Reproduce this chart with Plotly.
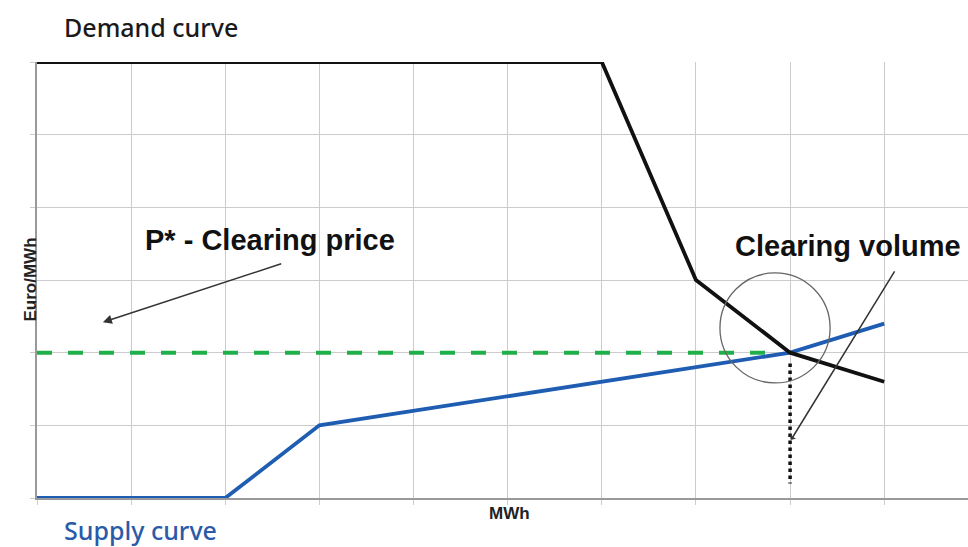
import plotly.graph_objects as go

# Data (grid units)
demand_x = [0, 6, 7, 8, 9]
demand_y = [6, 6, 3, 2, 1.6]
supply_x = [0, 2, 3, 8, 9]
supply_y = [0, 0, 1, 2, 2.4]
clearing_price = 2
clearing_volume = 8
price_line_x = [0, 7.8]
volume_line_y = [1.85, 0.2]

fig = go.Figure()

fig.add_trace(go.Scatter(x=price_line_x, y=[clearing_price, clearing_price], mode="lines",
                         line=dict(color="#1fb04a", width=4, dash="15px,16px"),
                         hoverinfo="skip", cliponaxis=False))
fig.add_trace(go.Scatter(x=supply_x, y=supply_y, mode="lines",
                         line=dict(color="#1f5db3", width=3.8),
                         hoverinfo="skip", cliponaxis=False))
fig.add_trace(go.Scatter(x=demand_x, y=demand_y, mode="lines",
                         line=dict(color="#111111", width=3.8),
                         hoverinfo="skip", cliponaxis=False))
fig.add_trace(go.Scatter(x=[clearing_volume, clearing_volume], y=volume_line_y, mode="lines",
                         line=dict(color="#111111", width=3.5, dash="dot"),
                         hoverinfo="skip", cliponaxis=False))

# circle around the equilibrium
fig.add_shape(type="circle", xref="x", yref="y",
              x0=7.84 - 0.585, x1=7.84 + 0.585, y0=2.34 - 0.757, y1=2.34 + 0.757,
              line=dict(color="#666666", width=1.3))

ann_font = dict(family="Liberation Sans, Arial", size=29, color="#111111")
fig.add_annotation(x=2.48, y=3.55, xref="x", yref="y", text="<b>P* - Clearing price</b>",
                   showarrow=False, font=ann_font)
fig.add_annotation(x=8.61, y=3.47, xref="x", yref="y", text="<b>Clearing volume</b>",
                   showarrow=False, font=ann_font)
# arrows
fig.add_annotation(x=0.70, y=2.42, ax=2.61, ay=3.23, xref="x", yref="y", axref="x", ayref="y",
                   text="", showarrow=True, arrowhead=2, arrowsize=1.2, arrowwidth=1.5,
                   arrowcolor="#333333")
fig.add_annotation(x=8.01, y=0.80, ax=9.12, ay=3.14, xref="x", yref="y", axref="x", ayref="y",
                   text="", showarrow=True, arrowhead=1, arrowsize=0.8, arrowwidth=1.5,
                   arrowcolor="#333333")

# paper coords relative to the plot area
plot_w = 968 - 37
plot_h = 547 - 62 - 49

def px(x):
    return (x - 37) / plot_w

def py(y):
    return (498 - y) / plot_h

# axis labels
lab_font = dict(family="Liberation Sans, Arial", size=17, color="#222222")
fig.add_annotation(x=px(18), y=py(280), xref="paper", yref="paper", text="<b>Euro/MWh</b>",
                   textangle=-90, showarrow=False, font=lab_font)
fig.add_annotation(x=px(509), y=py(502), xref="paper", yref="paper", text="<b>MWh</b>",
                   xanchor="center", yanchor="top",
                   showarrow=False, font=lab_font)

# curve titles
title_font = "Noto Sans, Open Sans, sans-serif"
fig.add_annotation(x=px(62), y=py(27), xref="paper", yref="paper",
                   yanchor="middle", xanchor="left",
                   text="Demand curve", showarrow=False,
                   font=dict(family=title_font, size=25, color="#1a1a1a", weight=500))
fig.add_annotation(x=px(62), y=py(530), xref="paper", yref="paper",
                   yanchor="middle", xanchor="left",
                   text="Supply curve", showarrow=False,
                   font=dict(family=title_font, size=25, color="#2a5aa8", weight=500))

fig.update_layout(
    width=968, height=547,
    margin=dict(l=37, r=0, t=62, b=49),
    plot_bgcolor="white", paper_bgcolor="white",
    showlegend=False,
)

fig.update_xaxes(range=[0, 9.89], dtick=1, tick0=0, showgrid=True, gridcolor="#cccccc", gridwidth=1.3,
                 showline=True, linecolor="#999999", linewidth=1.5, zeroline=False,
                 ticks="outside", ticklen=5, tickcolor="#cccccc", showticklabels=False, fixedrange=True)
fig.update_yaxes(range=[0, 6], dtick=1, tick0=0, showgrid=True, gridcolor="#cccccc", gridwidth=1.3,
                 showline=True, linecolor="#999999", linewidth=1.5, zeroline=False,
                 ticks="outside", ticklen=5, tickcolor="#cccccc", showticklabels=False, fixedrange=True)

fig.write_html("out.html", config={"displayModeBar": False},
               post_script="document.body.style.margin='0';document.body.style.overflow='hidden';")
